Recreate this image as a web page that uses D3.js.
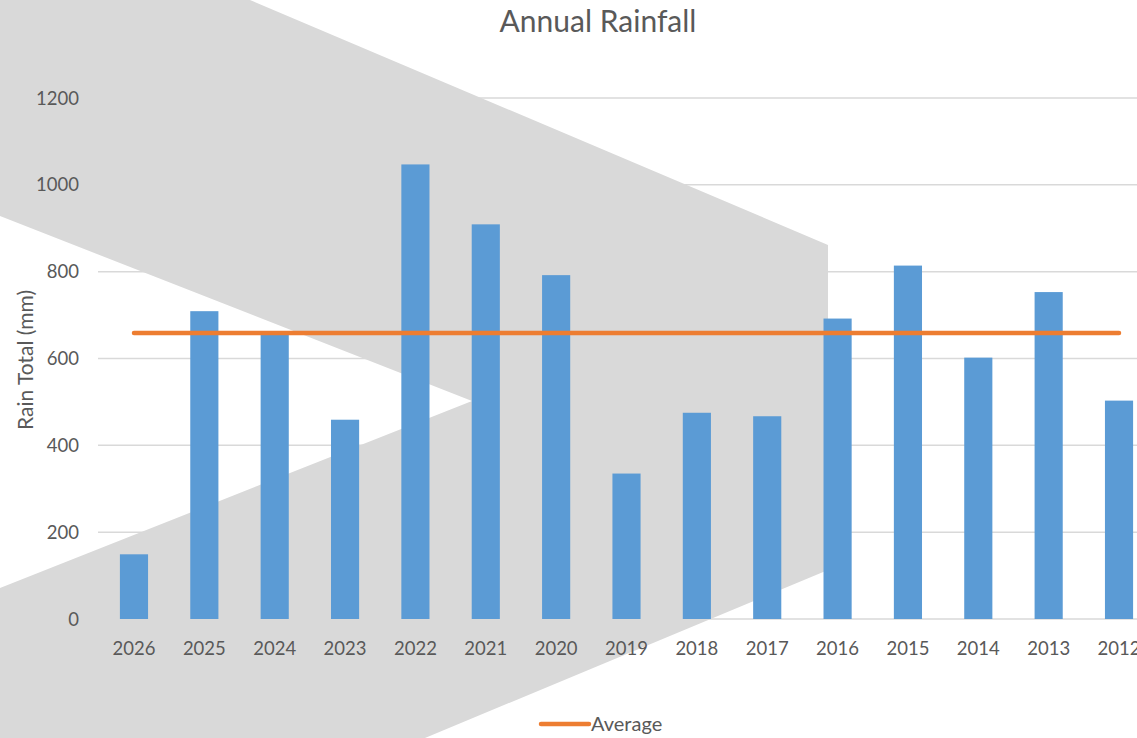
<!DOCTYPE html>
<html lang="en">
<head>
    <meta charset="UTF-8">
    <title>Annual Rainfall</title>
    <script src="https://d3js.org/d3.v7.min.js"></script>
    <style>
        body { margin: 0; background: #fff; }
        text { font-family: Lato, "Open Sans", sans-serif; fill: #595959; }
        .tick-label { font-size: 18.5px; }
        .axis-title { font-size: 21px; }
        .legend-label { font-size: 20px; }
        .title { font-size: 30px; }
    </style>
</head>
<body>
    <script>
        // Data
        const years = ["2026", "2025", "2024", "2023", "2022", "2021", "2020", "2019",
                       "2018", "2017", "2016", "2015", "2014", "2013", "2012"];
        const rainTotals = [149, 709, 655, 459, 1047, 909, 792, 335, 475, 467, 692, 814, 602, 753, 503];
        const averageSeries = [659, 659, 659, 659, 659, 659, 659, 659, 659, 659, 659, 659, 659, 659, 659];
        const yTicks = [0, 200, 400, 600, 800, 1000, 1200];

        const width = 1137;
        const height = 738;

        const svg = d3.select("body")
            .append("svg")
            .attr("width", width)
            .attr("height", height);

        // Scales (plot area runs past the right edge, like the original)
        const xScale = d3.scaleBand()
            .domain(years)
            .range([98.8, 1154.2])
            .paddingInner(0.6)
            .paddingOuter(0.3);

        const yScale = d3.scaleLinear()
            .domain([0, 1200])
            .range([619, 98]);

        // Gridlines
        svg.append("g")
            .selectAll("line")
            .data(yTicks)
            .enter()
            .append("line")
            .attr("x1", 98)
            .attr("x2", 1154)
            .attr("y1", d => yScale(d))
            .attr("y2", d => yScale(d))
            .attr("stroke", "#d9d9d9")
            .attr("stroke-width", 1.5);

        // Grey chevron shape behind the bars
        svg.append("polygon")
            .attr("points", "0,0 250,0 828,245 828,570 425,738 0,738 0,588 472,401 0,216")
            .attr("fill", "#d9d9d9");

        // Bars
        svg.append("g")
            .selectAll("rect")
            .data(rainTotals)
            .enter()
            .append("rect")
            .attr("x", (d, i) => xScale(years[i]))
            .attr("y", d => yScale(d))
            .attr("width", xScale.bandwidth())
            .attr("height", d => yScale(0) - yScale(d))
            .attr("fill", "#5b9bd5");

        // Average line
        const line = d3.line()
            .x((d, i) => xScale(years[i]) + xScale.bandwidth() / 2)
            .y(d => yScale(d));

        svg.append("path")
            .datum(averageSeries)
            .attr("d", line)
            .attr("fill", "none")
            .attr("stroke", "#ed7d31")
            .attr("stroke-width", 4.5)
            .attr("stroke-linecap", "round");

        // Y tick labels
        svg.append("g")
            .selectAll("text")
            .data(yTicks)
            .enter()
            .append("text")
            .attr("class", "tick-label")
            .attr("x", 79)
            .attr("y", d => yScale(d))
            .attr("dy", "0.36em")
            .attr("text-anchor", "end")
            .text(d => d);

        // X tick labels
        svg.append("g")
            .selectAll("text")
            .data(years)
            .enter()
            .append("text")
            .attr("class", "tick-label")
            .attr("x", d => xScale(d) + xScale.bandwidth() / 2)
            .attr("y", 655)
            .attr("text-anchor", "middle")
            .text(d => d);

        // Title
        svg.append("text")
            .attr("class", "title")
            .attr("x", 598)
            .attr("y", 32)
            .attr("text-anchor", "middle")
            .text("Annual Rainfall");

        // Y axis title
        svg.append("text")
            .attr("class", "axis-title")
            .attr("transform", "translate(33,360) rotate(-90)")
            .attr("text-anchor", "middle")
            .text("Rain Total (mm)");

        // Legend
        const legend = svg.append("g").attr("transform", "translate(541,724)");
        legend.append("line")
            .attr("x1", 0)
            .attr("x2", 48)
            .attr("stroke", "#ed7d31")
            .attr("stroke-width", 4.5)
            .attr("stroke-linecap", "round");
        legend.append("text")
            .attr("class", "legend-label")
            .attr("x", 50)
            .attr("y", 7)
            .text("Average");
    </script>
</body>
</html>
